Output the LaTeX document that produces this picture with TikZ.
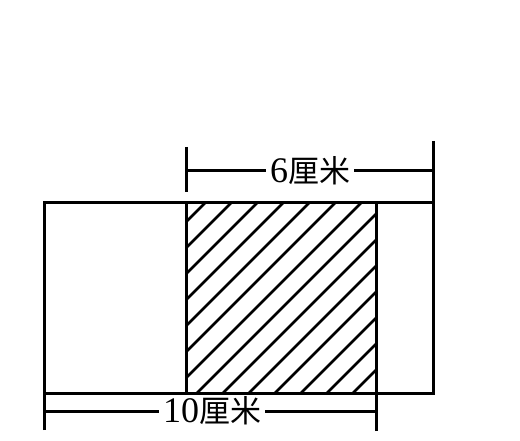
\documentclass[tikz,border=0pt]{standalone}
\usepackage{fontspec}
\setmainfont{Liberation Serif}
\newfontfamily\cjk{Noto Sans CJK SC}
\usetikzlibrary{positioning}

\begin{document}
\begin{tikzpicture}
[x=1pt,y=1pt,
 edge/.style={line width=3pt},
 hatch/.style={line width=2.5pt},
 dimlabel/.style={inner sep=4pt,font=\fontsize{31}{34}\selectfont}]
\useasboundingbox (0,0) rectangle (520,440);

% outer strip and shaded square
\coordinate (ll) at (44,47);
\coordinate (ur) at (433,237);
\coordinate (sl) at (186,47);
\coordinate (su) at (376,237);

% dimension ends
\coordinate (topl1) at (186,293);
\coordinate (topl2) at (186,248);
\coordinate (topl) at (186,269);
\coordinate (topr1) at (433,299);
\coordinate (topr) at (433,269);
\coordinate (botl1) at (44,10);
\coordinate (botl) at (44,29);
\coordinate (botr1) at (376,9);
\coordinate (botr) at (376,29);

\node[dimlabel] (six) at (310,269) {{\fontsize{36}{36}\selectfont 6}\cjk 厘米};
\node[dimlabel] (ten) at (212,29) {{\fontsize{36}{36}\selectfont 10}\cjk 厘米};

\begin{scope}
\clip (sl) rectangle (su);
\foreach \k in {0,...,13}
  \draw[hatch] (-14,{18-26*\k}) -- (586,{618-26*\k});
\end{scope}

\draw[edge] (ll) rectangle (ur);
\draw[edge] (sl) -- (sl |- ur);
\draw[edge] (su |- ll) -- (su);

\draw[edge] (topl1) -- (topl2);
\draw[edge] (topr1) -- (ur);
\draw[edge] (topl) -- (six.west);
\draw[edge] (six.east) -- (topr);

\draw[edge] (botl1) -- (ll);
\draw[edge] (botr1) -- (su |- ll);
\draw[edge] (botl) -- (ten.west);
\draw[edge] (ten.east) -- (botr);
\end{tikzpicture}
\end{document}
